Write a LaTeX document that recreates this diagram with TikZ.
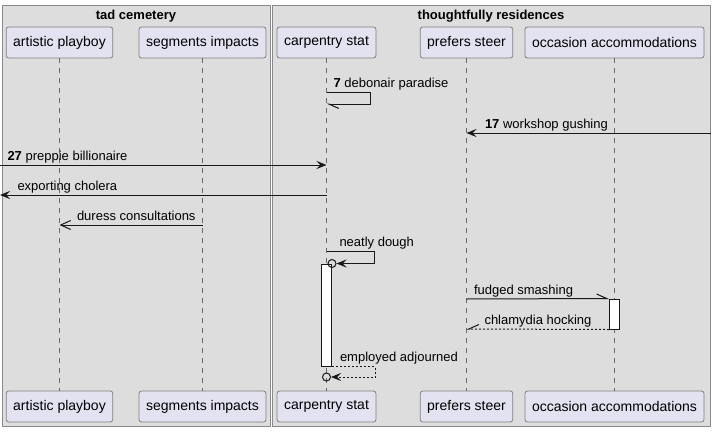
\documentclass[tikz,border=0pt]{standalone}
\usepackage{fontspec}
\setmainfont{Liberation Sans}
\usetikzlibrary{arrows.meta}
\definecolor{grpfill}{HTML}{DDDDDD}
\definecolor{grpline}{HTML}{8A8A8A}
\definecolor{partfill}{HTML}{E2E2F0}
\definecolor{partline}{HTML}{7F7F7F}
\definecolor{linec}{HTML}{181818}
\tikzset{
    group/.style = {draw=grpline, fill=grpfill, line width=0.8pt,
        anchor=north west, inner sep=0pt},
    grouptitle/.style = {font=\fontsize{13}{15}\selectfont\bfseries, anchor=base},
    part/.style = {draw=partline, fill=partfill, rounded corners=2.5pt,
        line width=0.8pt, minimum height=31pt, inner xsep=7pt,
        font=\fontsize{14}{16}\selectfont},
    life/.style = {draw=linec!65, line width=0.8pt, dash pattern=on 5pt off 5pt},
    actbar/.style = {draw=linec, fill=white, line width=1pt,
        minimum width=10pt, inner sep=0pt},
    ring/.style = {draw=linec, circle, line width=1pt, minimum size=8pt, inner sep=0pt},
    msg/.style = {draw=linec, line width=1pt, -{Stealth[length=10pt,width=8pt,inset=4pt]}},
    async/.style = {draw=linec, line width=1pt, -{Straight Barb[length=10pt,width=9pt]}},
    half/.style = {draw=linec, line width=1pt, -{Straight Barb[harpoon,length=10pt,width=9pt]}},
    halfswap/.style = {draw=linec, line width=1pt, -{Straight Barb[harpoon,swap,length=10pt,width=9pt]}},
    ret/.style = {dash pattern=on 2pt off 2pt},
    lbl/.style = {font=\fontsize{13}{15}\selectfont, inner sep=0pt, anchor=base west}
}
\begin{document}
\begin{tikzpicture}[x=1pt, y=-1pt]
    \useasboundingbox (0,0) rectangle (714,431);
    % boxes
    \node [group, minimum width=268pt, minimum height=421pt] (tad) at (2,5) {};
    \node [group, minimum width=438pt, minimum height=421pt] (thr) at (272,5) {};
    \node [grouptitle] (tadt) at (136,19) {tad cemetery};
    \node [grouptitle] (thrt) at (491,19) {thoughtfully residences};
    % participants
    \node [part] (ap) at (59.5,42.5) {artistic playboy};
    \node [part] (si) at (202.5,42.5) {segments impacts};
    \node [part] (cs) at (326.5,42.5) {carpentry stat};
    \node [part] (ps) at (466.5,42.5) {prefers steer};
    \node [part] (oa) at (614.5,42.5) {occasion accommodations};
    \node [part] (ap2) at (59.5,406.5) {artistic playboy};
    \node [part] (si2) at (202.5,406.5) {segments impacts};
    \node [part] (cs2) at (326.5,406.5) {carpentry stat};
    \node [part] (ps2) at (466.5,406.5) {prefers steer};
    \node [part] (oa2) at (614.5,406.5) {occasion accommodations};
    \draw [life] (ap) -- (ap2);
    \draw [life] (si) -- (si2);
    \draw [life] (cs) -- (cs2);
    \draw [life] (ps) -- (ps2);
    \draw [life] (oa) -- (oa2);
    % message rows
    \coordinate (r1) at (0,92);
    \coordinate (r1b) at (0,104);
    \coordinate (r2) at (0,133);
    \coordinate (r3) at (0,165);
    \coordinate (r4) at (0,195);
    \coordinate (r5) at (0,225);
    \coordinate (r6) at (0,251);
    \coordinate (r7) at (0,299);
    \coordinate (r8) at (0,329);
    \coordinate (r9) at (0,377);
    % activations
    \node [actbar, minimum height=102pt] (act1) at (326.5,315) {};
    \node [actbar, minimum height=30pt] (act2) at (614.5,314) {};
    \node [ring] (o1) at (act1.north east) {};
    \node [ring] (o2) at (cs |- r9) {};
    % messages
    \draw [half] (cs |- r1) -- node [lbl, pos=0, xshift=6.5pt, yshift=5pt] {\textbf{7} debonair paradise} ++(44,0) |- (cs |- r1b);
    \draw [msg] (thr.east |- r2) -- node [lbl, pos=1, xshift=18pt, yshift=5pt] {\textbf{17} workshop gushing} (ps |- r2);
    \draw [msg] (r3) -- node [lbl, pos=0, xshift=7pt, yshift=5pt] {\textbf{27} preppie billionaire} (cs |- r3);
    \draw [msg] (cs |- r4) -- node [lbl, pos=1, xshift=17pt, yshift=5pt] {exporting cholera} (r4);
    \draw [async] (si |- r5) -- node [lbl, pos=1, xshift=17pt, yshift=5pt] {duress consultations} (ap |- r5);
    \draw [msg] (cs |- r6) -- node [lbl, pos=0, xshift=12.5pt, yshift=5pt] {neatly dough} ++(48,0) |- (o1);
    \draw [half] (ps |- r7) -- node [lbl, pos=0, xshift=7pt, yshift=5pt] {fudged smashing} (act2.north west);
    \draw [halfswap, ret] (act2.south west) -- node [lbl, pos=1, xshift=17.5pt, yshift=5pt] {chlamydia hocking} (ps |- r8);
    \draw [msg, ret] (act1.south east) -- node [lbl, pos=0, xshift=7.5pt, yshift=5pt] {employed adjourned} ++(43,0) |- (o2);
\end{tikzpicture}
\end{document}
